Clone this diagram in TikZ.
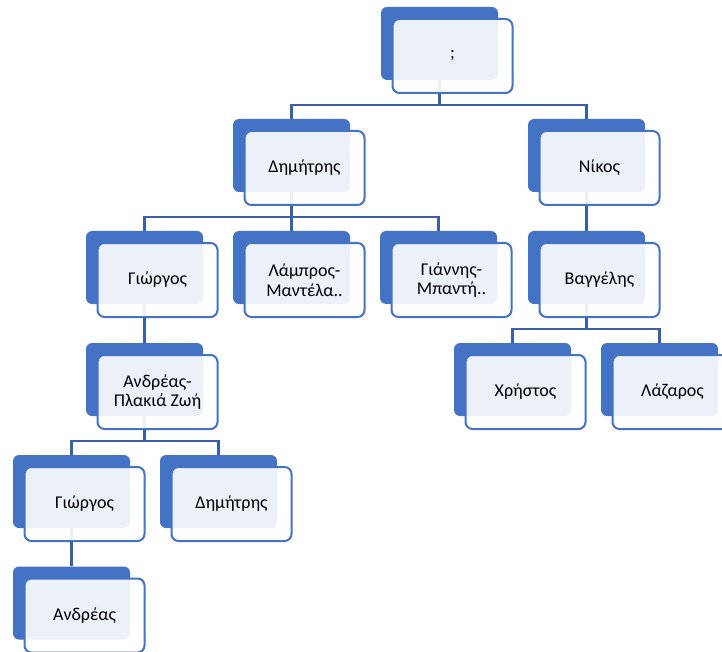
\documentclass[tikz,border=0pt]{standalone}
\usepackage{fontspec}
\setmainfont{Carlito}
\definecolor{backblue}{HTML}{4472C4}
\definecolor{connblue}{HTML}{3A5FAA}
\begin{document}
\begin{tikzpicture}[x=1pt,y=-1pt,
  backbox/.style={rectangle, rounded corners=6pt, fill=backblue, minimum width=117pt, minimum height=73pt, inner sep=0pt},
  frontbox/.style={rectangle, rounded corners=7pt, draw=backblue, line width=2pt, fill=white, fill opacity=0.9, draw opacity=1, text opacity=1, minimum width=120pt, minimum height=74pt, inner sep=0pt, align=center, font=\fontsize{18}{19.5}\selectfont, text=black},
  conn/.style={draw=connblue, line width=2.4pt}]
\useasboundingbox (0,0) rectangle (722,652);
% back boxes
\node[backbox] (root) at (439.5,43.5) {};
\node[backbox] (dim) at (291.5,155.5) {};
\node[backbox] (nik) at (586.5,155.5) {};
\node[backbox] (gio) at (144.5,267.5) {};
\node[backbox] (lam) at (291.5,267.5) {};
\node[backbox] (gia) at (438.5,267.5) {};
\node[backbox] (vag) at (586.5,267.5) {};
\node[backbox] (and) at (144.5,379.5) {};
\node[backbox] (chr) at (512.5,379.5) {};
\node[backbox] (laz) at (659.5,379.5) {};
\node[backbox] (gioB) at (71.5,491.5) {};
\node[backbox] (dimB) at (218.5,491.5) {};
\node[backbox] (andr) at (71.5,603) {};
% connectors
\draw[conn] (root.south) -- (root.south |- 0,105) -| (dim.north);
\draw[conn] (root.south |- 0,105) -| (nik.north);
\draw[conn] (dim.south) -- (dim.south |- 0,217) -| (gio.north);
\draw[conn] (dim.south |- 0,217) -- (lam.north);
\draw[conn] (dim.south |- 0,217) -| (gia.north);
\draw[conn] (nik.south) -- (vag.north);
\draw[conn] (gio.south) -- (and.north);
\draw[conn] (vag.south) -- (vag.south |- 0,329) -| (chr.north);
\draw[conn] (vag.south |- 0,329) -| (laz.north);
\draw[conn] (and.south) -- (and.south |- 0,441) -| (gioB.north);
\draw[conn] (and.south |- 0,441) -| (dimB.north);
\draw[conn] (gioB.south) -- (andr.north);
% front boxes
\node[frontbox] (rootF) at ([shift={(13,12.5)}]root.center) {;};
\node[frontbox] (dimF) at ([shift={(13,12.5)}]dim.center) {Δημήτρης};
\node[frontbox] (nikF) at ([shift={(13,12.5)}]nik.center) {Νίκος};
\node[frontbox] (gioF) at ([shift={(13,12.5)}]gio.center) {Γιώργος};
\node[frontbox] (lamF) at ([shift={(13,12.5)}]lam.center) {Λάμπρος-\\Μαντέλα..};
\node[frontbox] (giaF) at ([shift={(13,12.5)}]gia.center) {Γιάννης-\\Μπαντή..};
\node[frontbox] (vagF) at ([shift={(13,12.5)}]vag.center) {Βαγγέλης};
\node[frontbox] (andF) at ([shift={(13,12.5)}]and.center) {Ανδρέας-\\Πλακιά Ζωή};
\node[frontbox] (chrF) at ([shift={(13,12.5)}]chr.center) {Χρήστος};
\node[frontbox] (lazF) at ([shift={(13,12.5)}]laz.center) {Λάζαρος};
\node[frontbox] (gioBF) at ([shift={(13,12.5)}]gioB.center) {Γιώργος};
\node[frontbox] (dimBF) at ([shift={(13,12.5)}]dimB.center) {Δημήτρης};
\node[frontbox] (andrF) at ([shift={(13,12.5)}]andr.center) {Ανδρέας};
\end{tikzpicture}
\end{document}
